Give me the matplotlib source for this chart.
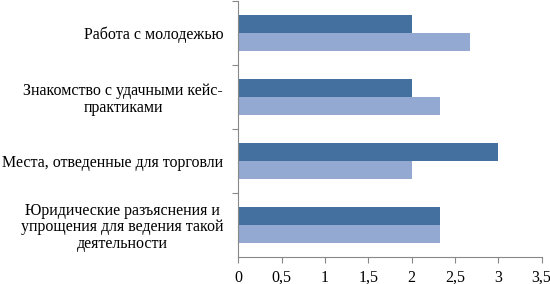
import numpy as np
import matplotlib.pyplot as plt
from matplotlib.ticker import FixedLocator, NullFormatter

# dane wykresu (od dolu do gory)
kategorie = ["Юридические разъяснения и\nупрощения для ведения такой\nдеятельности",
             "Места, отведенные для торговли",
             "Знакомство с удачными кейс-\nпрактиками",
             "Работа с молодежью"]
seria_ciemna = [2.33, 3.0, 2.0, 2.0]
seria_jasna = [2.33, 2.0, 2.33, 2.67]
x_ticki = [0, 0.5, 1, 1.5, 2, 2.5, 3, 3.5]
x_etykiety = ["0", "0,5", "1", "1,5", "2", "2,5", "3", "3,5"]

plt.rcParams['font.family'] = ['Liberation Serif', 'DejaVu Serif']

fig = plt.figure(figsize=(5.5, 2.84), dpi=100)
ax = fig.add_axes([0.4336, 0.095, 0.551, 0.9015])

y = np.arange(len(kategorie))
h = 0.28
ax.barh(y + h / 2, seria_ciemna, height=h, color='#44709F')
ax.barh(y - h / 2, seria_jasna, height=h, color='#94A9D2')

ax.set_xlim(0, 3.5)
ax.set_ylim(-0.5, len(kategorie) - 0.5)
ax.set_xticks(x_ticki)
ax.set_xticklabels(x_etykiety, fontsize=11.5)

# kreski na granicach kategorii, podpisy w srodku
ax.yaxis.set_major_locator(FixedLocator([0.5, 1.5, 2.5, 3.5]))
ax.yaxis.set_major_formatter(NullFormatter())
ax.yaxis.set_minor_locator(FixedLocator(list(y)))
ax.set_yticklabels(kategorie, minor=True, fontsize=11.5,
                   multialignment='center', linespacing=1.05)
ax.tick_params(axis='y', which='minor', length=0, pad=11)
ax.tick_params(axis='y', which='major', length=4, color='#888888')
ax.tick_params(axis='x', length=4, color='#888888', pad=5)

for s in ['top', 'right']:
    ax.spines[s].set_visible(False)
for s in ['left', 'bottom']:
    ax.spines[s].set_color('#888888')

fig.savefig('out.png', dpi=100)
